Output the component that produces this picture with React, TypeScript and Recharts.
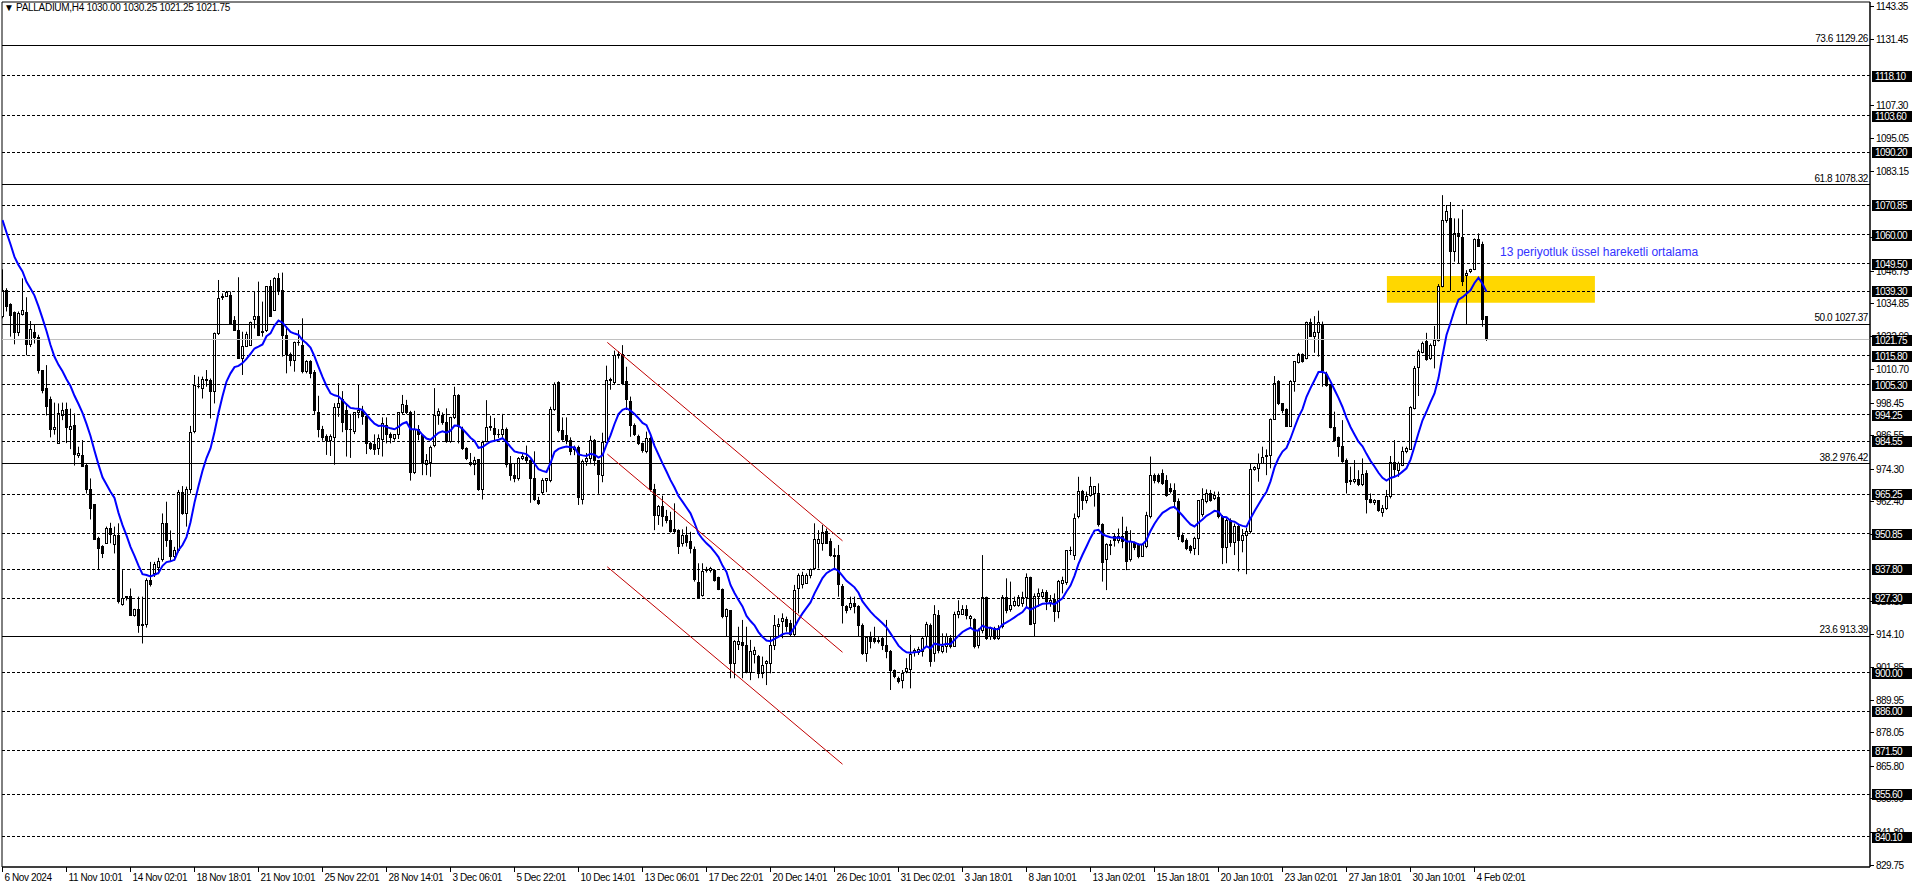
import React from "react";
import {
  ComposedChart,
  XAxis,
  YAxis,
  Bar,
  Line,
  ReferenceLine,
  ReferenceArea,
} from "recharts";

// layout of the terminal window
const W = 1916;
const H = 888;
const AXIS_W = 46;
const AXIS_H = 21;
const PLOT_LEFT = 2;
const PLOT_TOP = 2;
const FONT = "'Liberation Sans', Arial, sans-serif";

// PALLADIUM H4 candles, one row per bar: open, high, low, close
const candles: number[][] = [
  [1030.1, 1047.4, 1029.5, 1039.8], [1039.8, 1040.5, 1032, 1033.7], [1034.7, 1035, 1022.8, 1030.7], [1031.5, 1032, 1020, 1024.2],
  [1024.2, 1032, 1023, 1031.3], [1031, 1044.1, 1030.5, 1032.5], [1031.8, 1037.2, 1016, 1020], [1020, 1028.5, 1019, 1025.5],
  [1024.2, 1027.4, 1020.3, 1022.5], [1022.5, 1023.5, 1009.3, 1010.3], [1010.3, 1010.6, 1002.1, 1003.1], [1003.7, 1012.4, 994, 997.2],
  [1000, 1000.9, 986, 988.9], [989, 998.7, 987, 989.7], [983.8, 998.4, 983.8, 994.9], [994, 998.7, 992.3, 996],
  [996.1, 998.7, 983.9, 989.7], [989, 996.5, 981.7, 990], [990.4, 994.7, 975.7, 979.8], [979.5, 982.6, 978.5, 980.2],
  [979.5, 985, 975.3, 975.5], [975.8, 976.5, 965.5, 966.8], [966.8, 971, 956, 960.1], [961.3, 961.3, 948.5, 948.8],
  [949, 949.7, 937.6, 945.5], [946.3, 946.6, 941.9, 943.7], [947.3, 953.4, 947.3, 952.8], [952.8, 954.8, 947.3, 950.5],
  [947, 953.4, 943.6, 950], [950, 954.6, 925.3, 925.9], [925, 937.5, 924.5, 927], [927.4, 928, 926.4, 927.8],
  [927.8, 930.8, 920.9, 920.9], [920.8, 923.4, 920.5, 923], [923, 927.8, 914.6, 917.4], [917.4, 927.8, 910.7, 917.6],
  [917.5, 934.5, 916.5, 933.7], [933.6, 940.5, 931.5, 932.3], [936.3, 940.5, 935, 939.4], [938.5, 942, 936, 940.5],
  [941.2, 958.2, 940.6, 954.6], [954.6, 962.5, 946, 948.5], [948.5, 952, 940.6, 942.5], [942.5, 946, 941, 944.5],
  [944.5, 966.8, 944, 965.8], [965.8, 968.2, 957.7, 958.2], [958.2, 968, 953.4, 966.8], [966.8, 990.2, 965.5, 987.7],
  [988, 1008.8, 987.5, 1005.1], [1004.6, 1008.2, 1003.9, 1004.5], [1003.9, 1008.2, 1000.2, 1007.2], [1007.2, 1010.6, 1004.5, 1006.6],
  [1006.9, 1007.5, 992.9, 1002.7], [1002.7, 1024.3, 998.4, 1024], [1023.8, 1043.5, 1023.4, 1036.8], [1037.2, 1038.6, 1036.2, 1037.4],
  [1037.6, 1039.5, 1037.4, 1038.8], [1038, 1039.3, 1027.4, 1027.4], [1028.6, 1030.3, 1025.2, 1025.2], [1025.2, 1044.5, 1014.9, 1014.9],
  [1014.8, 1024.6, 1008.8, 1019.3], [1019.3, 1024.6, 1019, 1023.7], [1019.7, 1028.3, 1019.4, 1027.9], [1029.1, 1039.2, 1025.8, 1030.1],
  [1030.3, 1042.9, 1023, 1023.4], [1024.2, 1035.6, 1022.8, 1024.6], [1025, 1041.3, 1024.5, 1041], [1041.3, 1043.5, 1030.1, 1030.1],
  [1032.5, 1044.5, 1032.3, 1044.1], [1044.1, 1046, 1038, 1039.5], [1039.5, 1046.2, 1015.5, 1023.3], [1023.3, 1026.5, 1009.4, 1016.1],
  [1016.1, 1017, 1012, 1014.2], [1014.2, 1021, 1010, 1020.5], [1020.5, 1025.2, 1019.5, 1020.6], [1019.7, 1029.5, 1009.4, 1010],
  [1010, 1014.2, 1009.4, 1013.6], [1013.6, 1014.2, 1007.6, 1009.4], [1009.6, 1010.6, 994.2, 996], [995.1, 1001.2, 986, 989],
  [989, 990.2, 984.8, 986], [986.5, 987.1, 979.6, 984.8], [984.8, 987.1, 979.2, 986.2], [986, 998.5, 976, 997],
  [997, 1005.7, 993.5, 998.5], [999.9, 1002.9, 987.9, 991.5], [996, 998.4, 979, 988.8], [988.8, 994.6, 978.5, 988.9],
  [988, 995.1, 987.2, 995.1], [995, 1005.5, 993, 996], [995.5, 997.5, 990.6, 993.5], [993.8, 994.6, 979.9, 983.8],
  [983.8, 984.4, 981.4, 982], [983.5, 987.1, 979.6, 981.7], [982, 987.1, 979.6, 985.5], [985.4, 993.3, 979, 990.9],
  [990.3, 993.3, 983.8, 987.2], [987.2, 987.8, 983.8, 986], [985.7, 987.2, 984.8, 986.9], [987.2, 995.1, 985.4, 995.1],
  [995.1, 1001.5, 994.5, 997.9], [997.5, 999.7, 994.5, 995.1], [995.1, 995.7, 970.2, 973.2], [973.2, 995.7, 972.6, 989],
  [989, 990.5, 985, 987], [986.6, 987.2, 972.2, 976.4], [976, 979.9, 972.2, 977.4], [977, 983, 971.6, 982.4],
  [982.9, 1004, 982.4, 994], [994, 996.6, 990.6, 995.5], [993.9, 995.1, 990.6, 991.3], [991.3, 996.6, 984, 984.6],
  [984.6, 993.5, 984, 993.1], [993.1, 1004.5, 992.7, 1001.4], [1001.2, 1001.8, 983.8, 989.9], [989, 989.9, 981.4, 982.1],
  [982, 982.4, 977.7, 978.1], [977, 980.3, 975.4, 976], [976.1, 978.9, 972.2, 977.7], [978, 978, 966.5, 967.1],
  [967, 984.8, 963.3, 984.2], [984.5, 999.6, 984.2, 989.6], [989.5, 993.9, 988.4, 989.8], [989.4, 993.1, 985, 987.2],
  [987.2, 989, 985.8, 987.2], [987.2, 994.6, 985.8, 989], [989, 989.6, 975, 976], [976, 979.2, 970.2, 972],
  [972, 976.3, 969.6, 970.8], [970.8, 978.8, 970.2, 978.1], [978.1, 979.9, 977.7, 978.9], [978.8, 983, 976.5, 977.6],
  [977.6, 978, 962.1, 971.1], [971, 980.9, 962.8, 963.4], [963.1, 964.3, 961.3, 961.8], [965.8, 971.1, 965.2, 970.3],
  [970.3, 971.1, 966, 970.8], [970.2, 997.2, 969.6, 996.3], [996.3, 1006.1, 995.7, 1005.2], [1006.1, 1006.5, 987.8, 988.4],
  [988.4, 993.3, 984.8, 985.4], [986.6, 993.3, 983.5, 984.8], [985, 986, 979.5, 981], [981.5, 983, 979.5, 982.2],
  [982.4, 983, 961.3, 964.1], [963.2, 977.9, 961.5, 977.2], [977.2, 980.3, 975.6, 978.1], [978.1, 986.6, 976.2, 984.8],
  [984.8, 985.4, 975.6, 977.4], [977.4, 977.7, 965.4, 972.6], [972, 987.7, 969.6, 984.2], [984, 1012.2, 983.8, 1006.7],
  [1006.6, 1007.8, 1003.4, 1007.2], [1006.2, 1017.7, 1005.2, 1015.8], [1016, 1017.5, 1014.8, 1016.1], [1016.1, 1019.7, 1005.1, 1005.7],
  [1006.3, 1011.8, 996, 999.9], [999, 1000.9, 986.2, 990.5], [990.5, 991.1, 986.5, 987.2], [986.5, 987, 983.2, 983.8],
  [983.8, 984.1, 980.4, 981.1], [980.8, 988.1, 980.2, 985.6], [985.6, 986.2, 966.2, 966.8], [966.8, 969, 952.1, 957.6],
  [957.6, 961.3, 954, 960.7], [960.9, 964.7, 953.4, 957], [957, 959.5, 954.6, 955.8], [955.8, 958.8, 951.2, 951.5],
  [952.4, 961.9, 950.9, 951.5], [952.1, 952.4, 943.4, 946.1], [947.3, 952.4, 946.1, 950], [950, 953.4, 946.1, 947.5],
  [947.9, 951.5, 943.6, 945.5], [945.1, 946.1, 933.3, 933.9], [933, 940, 927.2, 927.5], [928.4, 940, 927.8, 936.9],
  [937.5, 938.7, 936.6, 937.8], [937.5, 938.7, 936.6, 938.1], [937.3, 937.5, 933.3, 933.6], [934.8, 935.1, 930.2, 930.5],
  [930.5, 930.8, 919.9, 920.5], [920.5, 923.5, 913.4, 923.2], [922.7, 922.9, 898, 903.4], [903.4, 911.9, 898, 911.3],
  [910.5, 916.8, 908.3, 911.3], [911, 919.3, 898, 910.1], [910.1, 916.8, 899.8, 900.1], [900.1, 912, 897.3, 907.7],
  [906.8, 909.5, 903.4, 908.1], [906.1, 906.5, 898, 899.8], [899.8, 905.9, 898, 902.5], [903.4, 904.6, 895.5, 904],
  [903.4, 913.2, 899.8, 910.1], [910.1, 921.1, 908.3, 917.4], [917, 919.9, 913.2, 917.5], [918.9, 921.7, 912.6, 919.9],
  [919.5, 920.5, 915, 916.8], [918, 919.3, 913.4, 913.8], [913.8, 932.1, 913.2, 930.2], [930.8, 936.3, 921.7, 935.7],
  [932.4, 936.9, 930.8, 935.7], [932.7, 936.3, 932.7, 935.7], [935.7, 938.1, 934.5, 937.8], [938.1, 954.6, 937.5, 948.7],
  [947.3, 952.1, 938.1, 948.7], [947.3, 954, 944.6, 951.2], [951.5, 952.7, 947.3, 947.3], [947.9, 949.1, 942.4, 942.7],
  [943, 945.5, 937.5, 942.4], [942.7, 946.7, 927.8, 932.1], [931.4, 932.4, 918, 924.7], [924.1, 924.7, 921.7, 922.7],
  [923.9, 927.8, 922.9, 925.3], [925.3, 927.8, 921.7, 924.1], [924.1, 924.7, 913.2, 917.4], [917.4, 918, 906.5, 907.1],
  [907.1, 913.4, 904, 912.9], [912.9, 915, 908.9, 911.3], [912.5, 916.8, 910.7, 911.3], [911.9, 913.2, 910.7, 911.3],
  [912.5, 913.2, 908.3, 910.1], [910.1, 919.3, 905.3, 907.7], [907.7, 908.3, 893.7, 901], [901, 901.2, 898, 898.6],
  [897.9, 898.6, 896.1, 896.7], [897.1, 901, 894.3, 899.8], [900.4, 905.3, 899.8, 901.6], [901.2, 913.8, 894.3, 906.5],
  [907.3, 908.9, 905.9, 908.3], [907.3, 909.5, 906.5, 908.5], [907.7, 913.2, 905.9, 912.6], [913.2, 918.6, 909.5, 917.8],
  [917.4, 918, 902.2, 904], [907.1, 924.7, 904, 921.4], [921.1, 922.9, 907.1, 908.1], [907.7, 914.4, 907.1, 909.5],
  [909.5, 914.4, 907.3, 913.2], [912.6, 913.8, 908.9, 909.5], [909.5, 922.3, 909.5, 921.4], [921.4, 926.5, 919.9, 922.5],
  [921.4, 924.7, 921.1, 923.2], [923.2, 924.7, 919.5, 921.1], [919.8, 921.1, 916.8, 920.4], [919.3, 919.9, 908.9, 909.5],
  [910.1, 916.2, 908.9, 915.6], [915.6, 943, 914.4, 927.5], [927.5, 927.8, 912, 912.6], [913.2, 916.8, 912, 916.2],
  [916.2, 916.8, 912, 912.6], [912.6, 917.4, 912, 916.2], [916.8, 928.4, 916.2, 927.5], [927.5, 934.5, 921.7, 922.9],
  [923.2, 933.3, 922.3, 924.7], [924.4, 927.8, 924.1, 926], [924.7, 928.4, 924.1, 927.5], [925.4, 929.6, 924.1, 927.5],
  [927.5, 936.3, 924.1, 934.8], [934.8, 935.1, 917.4, 917.8], [918, 929, 913.4, 928], [927.8, 930.8, 924.1, 928.8],
  [927.8, 930.5, 927.2, 929.2], [929.2, 930.2, 922.9, 926], [925.4, 928.4, 924.1, 926.3], [926.8, 929, 918.6, 922.3],
  [922.3, 933.9, 919.9, 933.3], [932.6, 935.1, 929, 933.6], [932.9, 944.8, 932.1, 944.6], [944.6, 946.1, 943, 944.8],
  [943, 958.2, 941.2, 956.4], [957, 971.6, 956.4, 966.2], [966.2, 966.8, 959.5, 963.1], [962.9, 966.2, 961.9, 964.3],
  [964.9, 971.6, 964.3, 968], [965.5, 968.2, 960.7, 968], [965.5, 969.2, 953.4, 954], [954, 954.6, 933.3, 940.2],
  [941.2, 947.3, 930.2, 946.7], [946.5, 948.5, 943, 946.8], [949.7, 950.9, 946.1, 948.5], [948.5, 952.7, 947.3, 949.7],
  [949.7, 957, 945.5, 947.9], [951.5, 953.4, 937.5, 940.6], [941.2, 952.1, 940.6, 947.9], [947.3, 947.9, 944.8, 945.8],
  [946.7, 947.3, 941.8, 942.4], [942.4, 947.3, 942.4, 946.7], [946.1, 958.8, 945.5, 957.6], [957, 979, 956.4, 972.2],
  [972.2, 972.8, 969.2, 970.2], [972.2, 972.8, 969.2, 969.8], [972.8, 974.3, 968.6, 969.2], [970.2, 972.2, 964.3, 964.6],
  [967.4, 969.2, 965.5, 966.2], [966.5, 969.2, 960, 962.5], [962.5, 963.7, 948.5, 949.7], [950.3, 951.2, 947.5, 947.9],
  [948.5, 949.1, 944.8, 945.5], [946.3, 946.7, 943.6, 944.8], [945.5, 949.7, 943, 949.1], [949.1, 963.1, 943, 962.9],
  [958, 967.4, 957, 963.2], [962.5, 967, 961.9, 965.5], [965.5, 966.8, 962.5, 963.1], [963.7, 966.2, 963.1, 964.9],
  [964.1, 966.2, 956.4, 957], [957, 957.6, 939.7, 945.8], [945.8, 956.4, 940, 955.8], [955.8, 956.4, 946, 947.5],
  [947.5, 954.5, 943, 953.4], [953.4, 954, 937, 948.5], [948.5, 952.5, 944, 950.3], [950.3, 953, 936, 951.5],
  [951.5, 976.3, 950.9, 974.3], [974.3, 975.5, 973.8, 975], [974.7, 980.1, 969.8, 976.5], [976.5, 982.6, 976.3, 978.7],
  [979, 981.6, 972.2, 979.2], [979.2, 992.9, 974.7, 992.6], [992.6, 1008.4, 992.6, 1005.7], [1006.3, 1006.9, 997.8, 998.2],
  [998.2, 998.4, 994.8, 995.7], [996.2, 996.6, 989.9, 990.1], [990.1, 1006.9, 989.9, 1006.3], [1006.3, 1013.8, 1002.7, 1013.6],
  [1013.2, 1016.9, 1013, 1016.4], [1016.4, 1016.7, 1013.3, 1013.6], [1014.9, 1028.3, 1014.5, 1027.9], [1027.9, 1029.4, 1022.8, 1023],
  [1023, 1030.3, 1016.9, 1024.2], [1024.2, 1032.3, 1015.5, 1027.9], [1027, 1028.3, 1004.5, 1010.6], [1008.8, 1010, 1004.5, 1005.1],
  [1005.1, 1005.5, 989.3, 989.6], [989.6, 995.4, 984.8, 985], [986, 986.3, 978.9, 982.6], [982.6, 992.3, 976.7, 977.1],
  [977.7, 978.3, 965.5, 969.4], [970.4, 975.3, 968.6, 969.8], [969.8, 977.7, 969.2, 970.6], [970.6, 974, 968.2, 968.6],
  [968.6, 978.3, 968.2, 972.6], [972.8, 974, 958.2, 963.4], [963.4, 965.5, 961.9, 962.1], [962.1, 963.4, 961.3, 963.1],
  [962.8, 963.1, 958.8, 959.2], [958.4, 961.3, 957, 960.1], [960.1, 966.8, 959.5, 964.3], [964.3, 979.2, 963.7, 976.7],
  [976.7, 985, 971.4, 974.3], [973.8, 977.1, 971.6, 976.3], [975.9, 982.6, 975.5, 980.8], [980.8, 982.6, 980.2, 982],
  [981.6, 997.4, 981.4, 996.9], [996.6, 1012.1, 996.2, 1011.2], [1011.6, 1018.1, 1001.1, 1017.3], [1016.9, 1021, 1016.7, 1020.3],
  [1021, 1024.2, 1014, 1014.5], [1014.9, 1020.3, 1014.3, 1019.4], [1019.4, 1026.7, 1011.2, 1021.3], [1021.3, 1042, 1021, 1041.3],
  [1041.3, 1074.5, 1040.8, 1065.2], [1065.2, 1070.9, 1064.4, 1068.5], [1066, 1072, 1039.5, 1054], [1053.8, 1066, 1050.2, 1060.5],
  [1060.5, 1066, 1049.6, 1059.3], [1059.1, 1069.3, 1041.3, 1042.9], [1045.3, 1047.1, 1027.4, 1045.9], [1046.5, 1047.6, 1046, 1047.4],
  [1047.4, 1058.7, 1047.1, 1058.3], [1058.3, 1060.5, 1055.7, 1055.9], [1056.3, 1057.5, 1026.4, 1028.9], [1030, 1030.25, 1021.25, 1021.75],
];

// 13 period exponential moving average, value read at the first bar
const emaPeriod = 13;
const emaStart = 1065.4;

// price scale labels that stay visible beside the level boxes
const priceTicks = [
  1143.35, 1131.45, 1107.3, 1095.05, 1083.15, 1058.95, 1046.75, 1034.85, 1022.9, 1010.7, 998.45, 986.55,
  974.3, 962.4, 950.35, 926.15, 914.1, 901.85, 889.95, 878.05, 865.8, 853.9, 841.8, 829.75,
];
const levels = [
  1118.1, 1103.6, 1090.2, 1070.85, 1060.0, 1049.5, 1039.3, 1015.8, 1005.3, 994.25, 984.55, 965.25, 950.85, 937.8,
  927.3, 900.0, 886.0, 871.5, 855.6, 840.1,
];
const lastPrice = 1021.75;
const fibNames = ["73.6", "61.8", "50.0", "38.2", "23.6"];
const fibPrices = [1129.26, 1078.32, 1027.37, 976.42, 913.39];

const timeLabels = [
  "6 Nov 2024", "11 Nov 10:01", "14 Nov 02:01", "18 Nov 18:01", "21 Nov 10:01", "25 Nov 22:01", "28 Nov 14:01",
  "3 Dec 06:01", "5 Dec 22:01", "10 Dec 14:01", "13 Dec 06:01", "17 Dec 22:01", "20 Dec 14:01", "26 Dec 10:01",
  "31 Dec 02:01", "3 Jan 18:01", "8 Jan 10:01", "13 Jan 02:01", "15 Jan 18:01", "20 Jan 10:01", "23 Jan 02:01",
  "27 Jan 18:01", "30 Jan 10:01", "4 Feb 02:01",
];
const timeLabelBars = [
  0, 16, 32, 48, 64, 80, 96, 112, 128, 144, 160, 176, 192, 208, 224, 240, 256, 272, 288, 304, 320, 336, 352, 368,
];

// descending channel: [bar, price, bar, price]
const channelLines = [
  [151.2, 1020.7, 210, 948.2],
  [151.2, 979.9, 210, 907.5],
  [151.2, 938.7, 210, 866.6],
];
// highlighted zone: bar from, bar to, price low, price high
const zone = [346.1, 398.1, 1035.2, 1045];

const xDomain = [-0.125, 466.875];
const yDomain = [829.03, 1145.07];

const data = (() => {
  let ema = emaStart;
  return candles.map(([o, h, l, c], i) => {
    if (i > 0) ema = ema + ((c - ema) * 2) / (emaPeriod + 1);
    return { i, o, h, l, c, range: [l, h], ema };
  });
})();

const Candle = (props: any) => {
  const { x, y, width, height, payload } = props;
  if (!payload) return null;
  const { o, h, l, c } = payload;
  const top = Math.min(y, y + height);
  const span = Math.abs(height);
  const py = (v: number) => top + (span * (h - v)) / (h - l || 1);
  const cx = Math.floor(x + width / 2) + 0.5;
  const bt = Math.floor(py(Math.max(o, c))) + 0.5;
  const bb = Math.floor(py(Math.min(o, c))) + 0.5;
  return (
    <g>
      <line x1={cx} x2={cx} y1={py(h)} y2={py(l)} stroke="#000" strokeWidth={1} />
      {bb - bt < 1 ? (
        <line x1={cx - 1.5} x2={cx + 1.5} y1={bt} y2={bt} stroke="#000" strokeWidth={1} />
      ) : (
        <rect x={cx - 1} y={bt} width={2} height={bb - bt} fill={c >= o ? "#fff" : "#000"} stroke="#000" strokeWidth={1} />
      )}
    </g>
  );
};

const crispLine = (color: string, dash?: string) => (p: any) => {
  const yy = Math.floor(p.y1) + 0.5;
  return <line x1={p.x1} x2={p.x2} y1={yy} y2={yy} stroke={color} strokeWidth={1} strokeDasharray={dash} />;
};
const noLine = () => <g />;

const TimeTick = ({ x, y, payload }: any) => (
  <text x={x + 2} y={y + 9} fontSize={10} fontFamily={FONT} letterSpacing={-0.4} fill="#000">
    {timeLabels[timeLabelBars.indexOf(payload.value)]}
  </text>
);

// price scale label with its tick mark, drawn under the level boxes
const priceLabel = (value: number) => (p: any) => {
  const vb = p.viewBox;
  const right = vb.x + vb.width;
  const yy = Math.floor(vb.y) + 0.5;
  return (
    <g>
      <line x1={right} x2={right + 4} y1={yy} y2={yy} stroke="#000" strokeWidth={1} />
      <text x={right + 6} y={yy + 3.5} fontSize={10} fontFamily={FONT} letterSpacing={-0.5} fill="#000">
        {value.toFixed(2)}
      </text>
    </g>
  );
};

// black price box drawn on the axis at the end of a level line
const boxLabel = (value: number) => (p: any) => {
  const vb = p.viewBox;
  const right = vb.x + vb.width;
  const yy = Math.round(vb.y);
  return (
    <g>
      <rect x={right + 2} y={yy - 5} width={40} height={11} fill="#000" />
      <text x={right + 5} y={yy + 4} fontSize={10} fontFamily={FONT} letterSpacing={-0.6} fill="#fff">
        {value.toFixed(2)}
      </text>
    </g>
  );
};

const fibLabel = (text: string) => (p: any) => {
  const vb = p.viewBox;
  return (
    <text x={vb.x + vb.width - 2} y={vb.y - 3} textAnchor="end" fontSize={10} fontFamily={FONT} letterSpacing={-0.4} fill="#000">
      {text}
    </text>
  );
};

const App = () => {
  return (
    <div style={{ position: "absolute", left: 0, top: 0, width: W, height: H, background: "#fff" }}>
      <ComposedChart
        width={W}
        height={H}
        data={data}
        margin={{ top: PLOT_TOP, right: 0, left: PLOT_LEFT, bottom: 0 }}
      >
        <XAxis
          dataKey="i"
          type="number"
          domain={xDomain}
          allowDataOverflow
          ticks={timeLabelBars}
          interval={0}
          height={AXIS_H}
          tickSize={5}
          tickMargin={0}
          axisLine={{ stroke: "#000" }}
          tickLine={{ stroke: "#000" }}
          tick={TimeTick}
        />
        <YAxis
          yAxisId="p"
          orientation="right"
          type="number"
          domain={yDomain}
          allowDataOverflow
          width={AXIS_W}
          axisLine={{ stroke: "#000" }}
          tickLine={false}
          tick={false}
        />

        <ReferenceArea
          yAxisId="p"
          x1={zone[0]}
          x2={zone[1]}
          y1={zone[2]}
          y2={zone[3]}
          fill="#ffd700"
          fillOpacity={1}
          stroke="none"
        />

        {priceTicks.map((v) => (
          <ReferenceLine key={`t${v}`} yAxisId="p" y={v} shape={noLine} label={priceLabel(v)} />
        ))}
        {levels.map((v) => (
          <ReferenceLine key={v} yAxisId="p" y={v} shape={crispLine("#000", "3 2")} label={boxLabel(v)} />
        ))}
        <ReferenceLine yAxisId="p" y={lastPrice} shape={crispLine("#c0c0c0")} label={boxLabel(lastPrice)} />
        {fibPrices.map((v, k) => (
          <ReferenceLine
            key={`f${v}`}
            yAxisId="p"
            y={v}
            shape={crispLine("#000")}
            label={fibLabel(`${fibNames[k]} ${v.toFixed(2)}`)}
          />
        ))}

        <Bar yAxisId="p" dataKey="range" barSize={4} shape={Candle} isAnimationActive={false} />
        <Line
          yAxisId="p"
          dataKey="ema"
          type="linear"
          stroke="#0000ff"
          strokeWidth={2}
          dot={false}
          activeDot={false}
          isAnimationActive={false}
        />

        {channelLines.map((s, k) => (
          <ReferenceLine
            key={`c${k}`}
            yAxisId="p"
            segment={[
              { x: s[0], y: s[1] },
              { x: s[2], y: s[3] },
            ]}
            stroke="#c00000"
            strokeWidth={1}
          />
        ))}

        <ReferenceArea
          yAxisId="p"
          x1={xDomain[0]}
          x2={xDomain[1]}
          y1={yDomain[0]}
          y2={yDomain[1]}
          fill="none"
          stroke="#000"
          strokeWidth={1}
        />
      </ComposedChart>

      <div
        style={{
          position: "absolute",
          left: 4,
          top: 2,
          fontFamily: FONT,
          fontSize: 10,
          letterSpacing: -0.3,
          color: "#000",
          whiteSpace: "nowrap",
        }}
      >
        ▼ PALLADIUM,H4 1030.00 1030.25 1021.25 1021.75
      </div>
      <div
        style={{
          position: "absolute",
          left: 1500,
          top: 245,
          fontFamily: FONT,
          fontSize: 12,
          color: "#3333ff",
          whiteSpace: "nowrap",
        }}
      >
        13 periyotluk üssel hareketli ortalama
      </div>
    </div>
  );
};

export default App;
